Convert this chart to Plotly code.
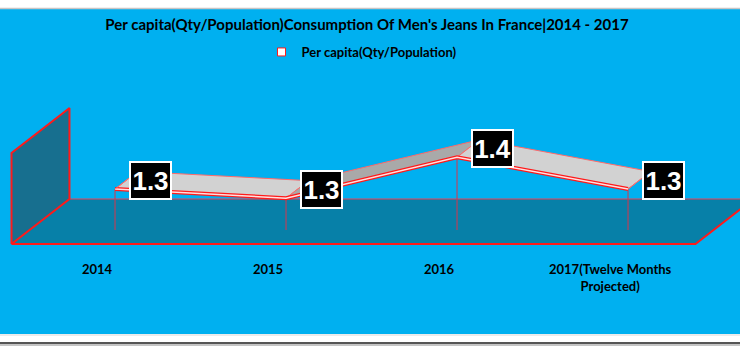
import plotly.graph_objects as go

# ---------------- data ----------------
categories = ["2014", "2015", "2016", "2017(Twelve Months<br>Projected)"]
values = [1.29, 1.27, 1.36, 1.29]
series_name = "Per capita(Qty/Population)"
title_text = "Per capita(Qty/Population)Consumption Of Men's Jeans In France|2014 - 2017"
y_min, y_max = 1.2, 1.4

# ---------------- 3D oblique projection helpers (in axis units) ----------------
DX = 0.339   # x shift for full depth (category units)
DY = 0.0989  # y shift for full depth (value units)
D_FRONT = 0.311
D_BACK = 0.70

def proj(x, y, d):
    return x + DX * d, y + DY * d

BLUE = "#00B0F0"
FLOOR = "#0780A8"
WALL = "#176F8F"
RED = "#FF1A1A"
FONT = "Lato, sans-serif"

n = len(categories)
xs = list(range(n))
x_lo, x_hi = -0.5, n - 0.5

fig = go.Figure()

# floor
fx = [x_lo, x_hi, proj(x_hi, y_min, 1)[0], proj(x_lo, y_min, 1)[0], x_lo]
fy = [y_min, y_min, proj(x_hi, y_min, 1)[1], proj(x_lo, y_min, 1)[1], y_min]
fig.add_trace(go.Scatter(x=fx, y=fy, fill="toself", fillcolor=FLOOR, mode="lines",
                         line=dict(color="rgba(0,0,0,0)", width=0), hoverinfo="skip", showlegend=False))
# floor back edge (thin)
fig.add_trace(go.Scatter(x=[fx[3], fx[2]], y=[fy[3], fy[2]], mode="lines",
                         line=dict(color="#E8425A", width=1), hoverinfo="skip", showlegend=False))
# floor front + right edge
fig.add_trace(go.Scatter(x=[x_lo, x_hi, fx[2]], y=[y_min, y_min, fy[2]], mode="lines",
                         line=dict(color=RED, width=2), hoverinfo="skip", showlegend=False))

# side wall
wx = [x_lo, x_lo, proj(x_lo, y_max, 1)[0], proj(x_lo, y_min, 1)[0], x_lo]
wy = [y_min, y_max, proj(x_lo, y_max, 1)[1], proj(x_lo, y_min, 1)[1], y_min]
fig.add_trace(go.Scatter(x=wx, y=wy, fill="toself", fillcolor=WALL, mode="lines",
                         line=dict(color=RED, width=2), hoverinfo="skip", showlegend=False))
fig.add_trace(go.Scatter(x=[wx[2], wx[3]], y=[wy[2], wy[3]], mode="lines",
                         line=dict(color=RED, width=1), hoverinfo="skip", showlegend=False))

# drop lines
for i, v in zip(xs, values):
    px, py = proj(i, v, D_FRONT)
    bx, by = proj(i, y_min, D_FRONT)
    fig.add_trace(go.Scatter(x=[px, bx], y=[py, by], mode="lines",
                             line=dict(color="#D8344C", width=1), hoverinfo="skip", showlegend=False))

# ribbon segments
for k in range(n - 1):
    v0, v1 = values[k], values[k + 1]
    f0 = proj(xs[k], v0, D_FRONT)
    f1 = proj(xs[k + 1], v1, D_FRONT)
    b1 = proj(xs[k + 1], v1, D_BACK)
    b0 = proj(xs[k], v0, D_BACK)
    col = "#D2D2D2" if v1 <= v0 else "#A9A9A9"
    fig.add_trace(go.Scatter(x=[f0[0], f1[0], b1[0], b0[0], f0[0]],
                             y=[f0[1], f1[1], b1[1], b0[1], f0[1]],
                             fill="toself", fillcolor=col, mode="lines",
                             line=dict(color="#FF6A6A", width=1), hoverinfo="skip", showlegend=False))
# ribbon front edge (double red/white)
frx = [proj(i, v, D_FRONT)[0] for i, v in zip(xs, values)]
fry = [proj(i, v, D_FRONT)[1] for i, v in zip(xs, values)]
fig.add_trace(go.Scatter(x=frx, y=fry, mode="lines", line=dict(color=RED, width=4),
                         hoverinfo="skip", showlegend=False))
fig.add_trace(go.Scatter(x=frx, y=fry, mode="lines", line=dict(color="#FFE0E0", width=1.5),
                         hoverinfo="skip", showlegend=False))
# ends of ribbon
for k in (0, n - 1):
    f = proj(xs[k], values[k], D_FRONT)
    b = proj(xs[k], values[k], D_BACK)
    fig.add_trace(go.Scatter(x=[f[0], b[0]], y=[f[1], b[1]], mode="lines",
                             line=dict(color="#FF6A6A", width=1), hoverinfo="skip", showlegend=False))

# legend entry
fig.add_trace(go.Scatter(x=[None], y=[None], mode="markers", name=f"<b>{series_name}</b>",
                         marker=dict(symbol="square", size=8, color="white",
                                     line=dict(color=RED, width=1)), showlegend=True))

annotations = []
# data labels
for i, v in zip(xs, values):
    px, py = proj(i, v, D_FRONT)
    annotations.append(dict(x=px, y=py, xref="x", yref="y", text=f"<b>{v:.1f}</b>",
                            showarrow=False, xshift=35, yshift=9,
                            font=dict(family="Liberation Sans, Arial, sans-serif", size=26, color="white"),
                            bgcolor="black", bordercolor="white", borderwidth=2,
                            width=39, height=35, borderpad=0, align="center", valign="middle"))
# category labels
for i, c in zip(xs, categories):
    annotations.append(dict(x=i, y=y_min - 0.033, xref="x", yref="y", text=f"<b>{c}</b>",
                            showarrow=False, yanchor="top",
                            font=dict(family=FONT, size=13, color="black")))

# x range so that category axis spans 12..697 px of 740
px_per_cat = 171.0
x0 = (0 - 97) / px_per_cat
x1 = (740 - 97) / px_per_cat
val_per_px = (y_max - y_min) / 91.0
y_top = y_min + 244 * val_per_px
y_bot = y_min - (347 - 244) * val_per_px

shapes = [
    dict(type="rect", xref="paper", yref="paper", x0=0, x1=1, y0=1 - 334 / 347, y1=1 - 9 / 347,
         fillcolor=BLUE, line=dict(width=0), layer="below"),
    dict(type="line", xref="paper", yref="paper", x0=0, x1=1, y0=1 - 8.5 / 347, y1=1 - 8.5 / 347,
         line=dict(color="#C8C4C4", width=1.5), layer="below"),
    dict(type="line", xref="paper", yref="paper", x0=0, x1=1, y0=1 - 335 / 347, y1=1 - 335 / 347,
         line=dict(color="#D8D8D8", width=1), layer="below"),
    dict(type="line", xref="paper", yref="paper", x0=0, x1=1, y0=1 - 343 / 347, y1=1 - 343 / 347,
         line=dict(color="#555555", width=2), layer="below"),
    dict(type="line", xref="paper", yref="paper", x0=0, x1=1, y0=1 - 345 / 347, y1=1 - 345 / 347,
         line=dict(color="#B0B0B0", width=1.5), layer="below"),
]

fig.update_layout(
    width=740, height=347,
    margin=dict(l=0, r=0, t=0, b=0),
    paper_bgcolor="white", plot_bgcolor="rgba(0,0,0,0)",
    xaxis=dict(range=[x0, x1], visible=False, fixedrange=True),
    yaxis=dict(range=[y_bot, y_top], visible=False, fixedrange=True),
    title=dict(text=f"<b>{title_text}</b>", x=367 / 740, xanchor="center", y=1 - 25 / 347, yanchor="middle",
               font=dict(family=FONT, size=15, color="black")),
    legend=dict(orientation="h", x=0.5 - 8 / 740, xanchor="center", y=1 - 52 / 347, yanchor="middle",
                font=dict(family=FONT, size=13, color="black"), bgcolor="rgba(0,0,0,0)",
                itemwidth=30),
    shapes=shapes,
    annotations=annotations,
    showlegend=True,
)

fig.write_html("out.html")
